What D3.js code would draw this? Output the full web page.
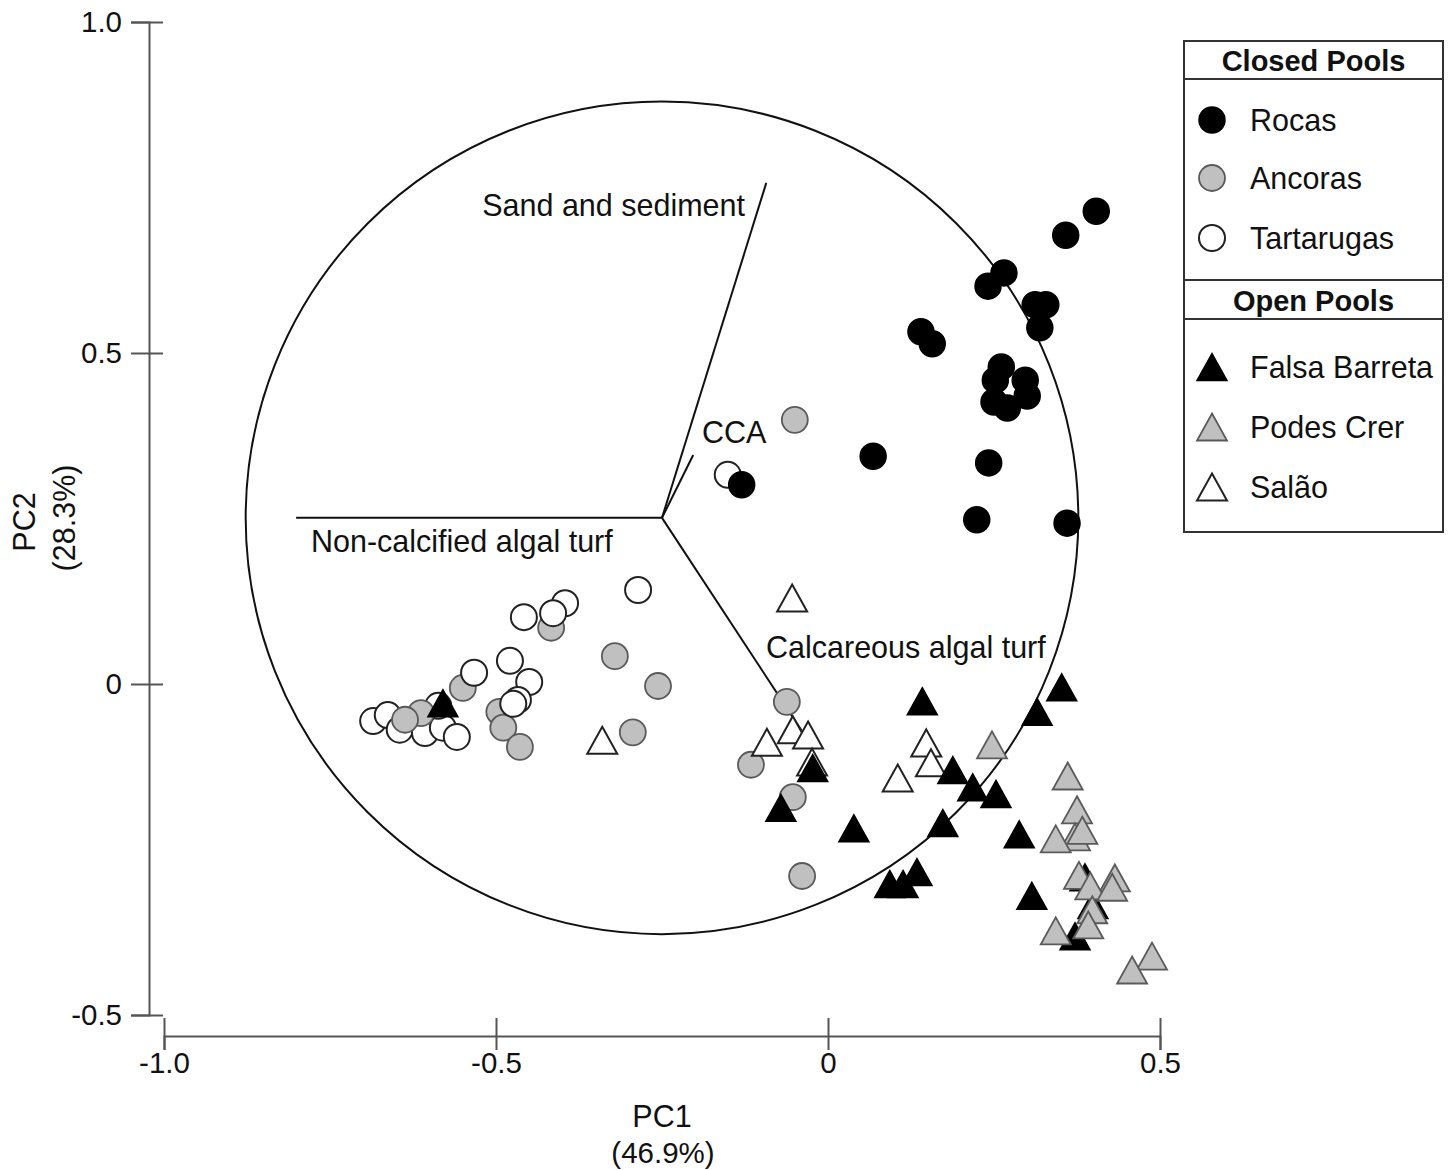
<!DOCTYPE html>
<html>
<head>
<meta charset="utf-8">
<script src="https://cdn.jsdelivr.net/npm/d3@7"></script>
<style>
  html, body { margin: 0; padding: 0; background: #fff; }
  svg { display: block; }
  text { font-family: "Liberation Sans", Arial, Helvetica, sans-serif; fill: #111; }
</style>
</head>
<body>
<svg id="chart" width="1448" height="1170"></svg>
<script>
// ---------- DATA ----------
const xTicks = [-1.0, -0.5, 0, 0.5];
const xTickLabels = ["-1.0", "-0.5", "0", "0.5"];
const yTicks = [-0.5, 0, 0.5, 1.0];
const yTickLabels = ["-0.5", "0", "0.5", "1.0"];

const rocas = [
  [0.404, 0.714], [0.358, 0.678], [0.265, 0.621], [0.241, 0.601], [0.312, 0.573],
  [0.328, 0.573], [0.319, 0.538], [0.140, 0.532], [0.157, 0.514], [0.261, 0.479],
  [0.252, 0.459], [0.297, 0.459], [0.300, 0.435], [0.250, 0.426], [0.270, 0.417],
  [0.068, 0.344], [0.242, 0.334], [-0.130, 0.301], [0.224, 0.248], [0.360, 0.243]
];
const ancoras = [
  [-0.050, 0.399], [-0.417, 0.085], [-0.321, 0.042], [-0.256, -0.003], [-0.294, -0.073],
  [-0.550, -0.006], [-0.495, -0.042], [-0.489, -0.066], [-0.464, -0.095], [-0.613, -0.044],
  [-0.637, -0.054], [-0.062, -0.027], [-0.116, -0.122], [-0.053, -0.171], [-0.039, -0.290]
];
const tartarugas = [
  [-0.151, 0.316], [-0.286, 0.142], [-0.396, 0.122], [-0.414, 0.107], [-0.458, 0.101],
  [-0.479, 0.035], [-0.450, 0.003], [-0.533, 0.017], [-0.467, -0.024], [-0.474, -0.030],
  [-0.685, -0.056], [-0.663, -0.047], [-0.645, -0.069], [-0.607, -0.074], [-0.580, -0.066],
  [-0.559, -0.080], [-0.587, -0.033]
];
const falsaBarreta = [
  [-0.580, -0.029], [0.142, -0.026], [0.352, -0.005], [0.315, -0.042], [-0.023, -0.127],
  [-0.071, -0.187], [0.039, -0.218], [0.188, -0.130], [0.218, -0.156], [0.253, -0.166],
  [0.173, -0.210], [0.288, -0.227], [0.134, -0.284], [0.113, -0.302], [0.093, -0.302],
  [0.307, -0.320], [0.372, -0.381], [0.387, -0.292], [0.399, -0.334]
];
const podesCrer = [
  [0.247, -0.092], [0.361, -0.139], [0.375, -0.190], [0.372, -0.231], [0.383, -0.221],
  [0.343, -0.234], [0.378, -0.289], [0.432, -0.293], [0.395, -0.305], [0.428, -0.307],
  [0.398, -0.341], [0.392, -0.364], [0.343, -0.373], [0.488, -0.411], [0.458, -0.432]
];
const salao = [
  [-0.054, 0.130], [-0.340, -0.085], [-0.092, -0.088], [-0.053, -0.069], [-0.030, -0.077],
  [-0.024, -0.118], [0.148, -0.089], [0.155, -0.119], [0.105, -0.142]
];

// biplot vectors (origin + endpoints) and correlation circle
const vectorOrigin = [-0.25, 0.251];
const vectorNames = ["Sand and sediment", "CCA", "Non-calcified algal turf", "Calcareous algal turf"];
const vectorEnds = [[-0.093, 0.757], [-0.203, 0.346], [-0.801, 0.251], [-0.040, -0.070]];
const circleCenter = [-0.25, 0.251];
const circleRadius = 0.627;

const legendGroups = ["Closed Pools", "Open Pools"];
const legendItems = [
  ["Rocas", "Ancoras", "Tartarugas"],
  ["Falsa Barreta", "Podes Crer", "Salão"]
];

// ---------- CHART ----------
const svg = d3.select("#chart");
const x = d3.scaleLinear().domain([-1, 0.5]).range([164, 1160]);
const y = d3.scaleLinear().domain([-0.5, 1]).range([1015, 22]);

const FS = 30.5;
const TFS = 29.5;
const axisColor = "#555";

// Y axis
const yAxisX = 149;
const gy = svg.append("g").attr("transform", `translate(${yAxisX},0)`)
  .call(d3.axisLeft(y).tickValues(yTicks).tickFormat((d, i) => yTickLabels[i]).tickSizeOuter(0).tickSize(18).tickPadding(9));
gy.select(".domain").attr("stroke", axisColor).attr("stroke-width", 2);
gy.selectAll(".tick line").attr("stroke", axisColor).attr("stroke-width", 2).attr("x2", 14).attr("x1", -18);
gy.selectAll(".tick text").attr("font-size", TFS).attr("x", -27).attr("fill", "#111")
  .style("font-family", '"Liberation Sans", Arial, sans-serif');

// X axis
const xAxisY = 1036;
const gx = svg.append("g").attr("transform", `translate(0,${xAxisY})`)
  .call(d3.axisBottom(x).tickValues(xTicks).tickFormat((d, i) => xTickLabels[i]).tickSizeOuter(0).tickSize(14).tickPadding(8));
gx.select(".domain").attr("stroke", axisColor).attr("stroke-width", 2);
gx.selectAll(".tick line").attr("stroke", axisColor).attr("stroke-width", 2).attr("y1", -18).attr("y2", 14);
gx.selectAll(".tick text").attr("font-size", TFS).attr("y", 26).attr("dy", "0").attr("dominant-baseline", "central").attr("fill", "#111")
  .style("font-family", '"Liberation Sans", Arial, sans-serif');

// Axis titles
svg.append("text").attr("x", 662).attr("y", 1116).attr("text-anchor", "middle").attr("dominant-baseline", "central")
  .attr("font-size", FS).text("PC1");
svg.append("text").attr("x", 663).attr("y", 1152).attr("text-anchor", "middle").attr("dominant-baseline", "central")
  .attr("font-size", 29.5).text("(46.9%)");
svg.append("text").attr("transform", "translate(24,522) rotate(-90)").attr("text-anchor", "middle").attr("dominant-baseline", "central")
  .attr("font-size", FS).text("PC2");
svg.append("text").attr("transform", "translate(64,518) rotate(-90)").attr("text-anchor", "middle").attr("dominant-baseline", "central")
  .attr("font-size", FS).text("(28.3%)");

// Correlation circle
const rPx = x(circleRadius) - x(0);
svg.append("circle").attr("cx", x(circleCenter[0])).attr("cy", y(circleCenter[1])).attr("r", rPx)
  .attr("fill", "none").attr("stroke", "#111").attr("stroke-width", 2);

// Vectors
svg.append("g").selectAll("line").data(vectorEnds).join("line")
  .attr("x1", x(vectorOrigin[0])).attr("y1", y(vectorOrigin[1]))
  .attr("x2", d => x(d[0])).attr("y2", d => y(d[1]))
  .attr("stroke", "#111").attr("stroke-width", 2);

// Vector labels
const labelSpecs = [
  { anchor: "end", dx: 745 - x(vectorEnds[0][0]), dy: 205 - y(vectorEnds[0][1]) },
  { anchor: "start", dx: 702 - x(vectorEnds[1][0]), dy: 432 - y(vectorEnds[1][1]) },
  { anchor: "start", dx: 311 - x(vectorEnds[2][0]), dy: 541 - y(vectorEnds[2][1]) },
  { anchor: "start", dx: 766 - x(vectorEnds[3][0]), dy: 647 - y(vectorEnds[3][1]) }
];
svg.append("g").selectAll("text").data(vectorNames).join("text")
  .attr("x", (d, i) => x(vectorEnds[i][0]) + labelSpecs[i].dx)
  .attr("y", (d, i) => y(vectorEnds[i][1]) + labelSpecs[i].dy)
  .attr("text-anchor", (d, i) => labelSpecs[i].anchor)
  .attr("dominant-baseline", "central")
  .attr("font-size", FS).text(d => d);

// Marker styles
const styles = {
  Rocas: { shape: "circle", fill: "#000", stroke: "#000", sw: 1.5 },
  Ancoras: { shape: "circle", fill: "#c0c0c0", stroke: "#5a5a5a", sw: 1.8 },
  Tartarugas: { shape: "circle", fill: "#fff", stroke: "#222", sw: 2 },
  "Falsa Barreta": { shape: "tri", fill: "#000", stroke: "#000", sw: 1.5 },
  "Podes Crer": { shape: "tri", fill: "#c0c0c0", stroke: "#5a5a5a", sw: 1.8 },
  "Salão": { shape: "tri", fill: "#fff", stroke: "#222", sw: 2 }
};
const triPath = "M0,-13.5L15,13.5L-15,13.5Z";
const R = 13;

function drawSeries(data, name) {
  const s = styles[name];
  const g = svg.append("g");
  if (s.shape === "circle") {
    g.selectAll("circle").data(data).join("circle")
      .attr("cx", d => x(d[0])).attr("cy", d => y(d[1])).attr("r", R)
      .attr("fill", s.fill).attr("stroke", s.stroke).attr("stroke-width", s.sw);
  } else {
    g.selectAll("path").data(data).join("path")
      .attr("transform", d => `translate(${x(d[0])},${y(d[1])})`).attr("d", triPath)
      .attr("fill", s.fill).attr("stroke", s.stroke).attr("stroke-width", s.sw).attr("stroke-linejoin", "miter");
  }
}
// stacking order follows the reference (far-left white circles sit beneath the grey ones)
drawSeries(tartarugas.filter(d => d[0] < -0.57), "Tartarugas");
drawSeries(ancoras, "Ancoras");
drawSeries(tartarugas.filter(d => d[0] >= -0.57), "Tartarugas");
drawSeries(rocas, "Rocas");
drawSeries(salao, "Salão");
drawSeries(falsaBarreta, "Falsa Barreta");
drawSeries(podesCrer, "Podes Crer");

// Legend
const lg = svg.append("g");
const L = { x0: 1184, x1: 1443, y0: 41, y1: 532 };
lg.append("rect").attr("x", L.x0).attr("y", L.y0).attr("width", L.x1 - L.x0).attr("height", L.y1 - L.y0)
  .attr("fill", "#fff").attr("stroke", "#333").attr("stroke-width", 2);
const dividers = [79, 280, 319];
lg.selectAll("line").data(dividers).join("line")
  .attr("x1", L.x0).attr("x2", L.x1).attr("y1", d => d).attr("y2", d => d)
  .attr("stroke", "#333").attr("stroke-width", 2);
const headerY = [61, 301];
lg.selectAll("text.hdr").data(legendGroups).join("text").attr("class", "hdr")
  .attr("x", (L.x0 + L.x1) / 2).attr("y", (d, i) => headerY[i])
  .attr("text-anchor", "middle").attr("dominant-baseline", "central")
  .attr("font-size", 29).attr("font-weight", "bold").text(d => d);
const itemY = [[120, 178, 238], [367, 427, 487]];
legendItems.forEach((items, gi) => {
  items.forEach((name, ii) => {
    const s = styles[name];
    const cy = itemY[gi][ii];
    if (s.shape === "circle") {
      lg.append("circle").attr("cx", 1212).attr("cy", cy).attr("r", R)
        .attr("fill", s.fill).attr("stroke", s.stroke).attr("stroke-width", s.sw);
    } else {
      lg.append("path").attr("transform", `translate(1212,${cy})`).attr("d", triPath)
        .attr("fill", s.fill).attr("stroke", s.stroke).attr("stroke-width", s.sw);
    }
    lg.append("text").attr("x", 1250).attr("y", cy).attr("dominant-baseline", "central")
      .attr("font-size", FS).text(name);
  });
});
</script>
</body>
</html>
